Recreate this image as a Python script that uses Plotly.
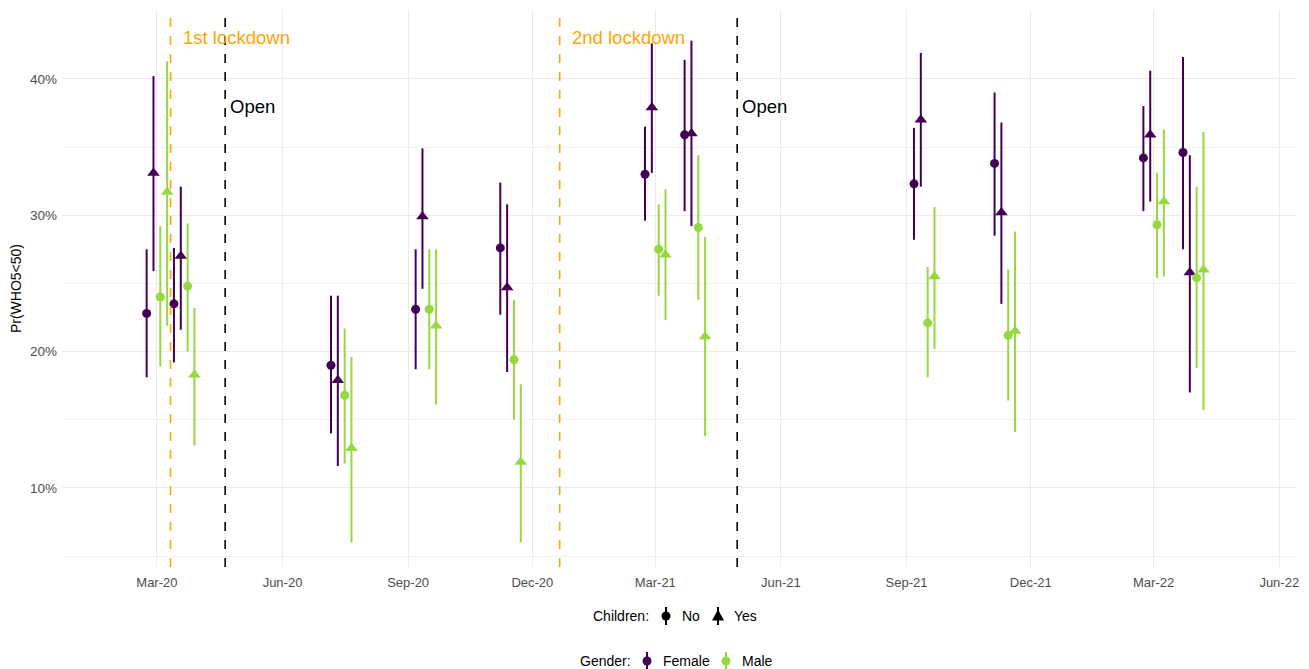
import pandas as pd
import plotly.graph_objects as go

# ---- data (percent) ----
wave_dates = ["2020-03-01", "2020-03-21", "2020-07-14", "2020-09-14", "2020-11-15",
              "2021-03-01", "2021-03-30", "2021-09-14", "2021-11-12", "2022-03-01", "2022-03-30"]

female_no_est = [22.8, 23.5, 19.0, 23.1, 27.6, 33.0, 35.9, 32.3, 33.8, 34.2, 34.6]
female_no_lo = [18.1, 19.2, 14.0, 18.7, 22.7, 29.6, 30.3, 28.2, 28.5, 30.3, 27.5]
female_no_hi = [27.5, 27.6, 24.1, 27.5, 32.4, 36.5, 41.4, 36.4, 39.0, 38.0, 41.6]

female_yes_est = [33.1, 27.0, 17.9, 29.9, 24.7, 37.9, 36.0, 37.0, 30.2, 35.9, 25.8]
female_yes_lo = [25.9, 21.6, 11.6, 24.6, 18.5, 33.1, 29.2, 32.1, 23.5, 31.0, 17.0]
female_yes_hi = [40.2, 32.1, 24.1, 34.9, 30.8, 42.6, 42.8, 41.9, 36.8, 40.6, 34.4]

male_no_est = [24.0, 24.8, 16.8, 23.1, 19.4, 27.5, 29.1, 22.1, 21.2, 29.3, 25.4]
male_no_lo = [18.9, 20.0, 11.8, 18.7, 15.0, 24.1, 23.8, 18.1, 16.4, 25.4, 18.8]
male_no_hi = [29.2, 29.4, 21.7, 27.5, 23.8, 30.8, 34.4, 26.2, 26.0, 33.1, 32.1]

male_yes_est = [31.7, 18.3, 12.9, 21.9, 11.9, 27.1, 21.1, 25.5, 21.5, 31.0, 26.0]
male_yes_lo = [21.9, 13.1, 6.0, 16.1, 6.0, 22.3, 13.8, 20.2, 14.1, 25.5, 15.7]
male_yes_hi = [41.3, 23.2, 19.6, 27.5, 17.6, 31.9, 28.4, 30.6, 28.8, 36.3, 36.1]

tick_dates = ["2020-03-01", "2020-06-01", "2020-09-01", "2020-12-01", "2021-03-01",
              "2021-06-01", "2021-09-01", "2021-12-01", "2022-03-01", "2022-06-01"]
tick_labels = ["Mar-20", "Jun-20", "Sep-20", "Dec-20", "Mar-21",
               "Jun-21", "Sep-21", "Dec-21", "Mar-22", "Jun-22"]
y_ticks = [10, 20, 30, 40]
y_tick_labels = ["10%", "20%", "30%", "40%"]

lockdown_dates = ["2020-03-11", "2020-12-21"]
lockdown_labels = ["1st lockdown", "2nd lockdown"]
open_dates = ["2020-04-20", "2021-04-30"]
open_labels = ["Open", "Open"]

children_title = "Children:"
children_levels = ["No", "Yes"]
gender_title = "Gender:"
gender_levels = ["Female", "Male"]

# ---- styles ----
PURPLE = "#440154"
GREEN = "#95D840"
ORANGE = "#FFA500"
FONT = "Liberation Sans, Arial, sans-serif"
OFF = 8  # page body margin in the browser
W, H = 1309 - OFF, 669 - OFF
ML, MR, MT, MB = 62 - OFF, 12, 10 - OFF, 102

series = [
    ("Female", "No", female_no_est, female_no_lo, female_no_hi, PURPLE, "circle", 9, -7.5),
    ("Female", "Yes", female_yes_est, female_yes_lo, female_yes_hi, PURPLE, "triangle-up", 11, -2.5),
    ("Male", "No", male_no_est, male_no_lo, male_no_hi, GREEN, "circle", 9, 2.5),
    ("Male", "Yes", male_yes_est, male_yes_lo, male_yes_hi, GREEN, "triangle-up", 11, 7.5),
]

fig = go.Figure()
base = pd.to_datetime(wave_dates)
for g, c, est, lo, hi, col, sym, size, off in series:
    xs = base + pd.Timedelta(days=off)
    fig.add_trace(go.Scatter(
        x=xs, y=est, mode="markers",
        marker=dict(color=col, symbol=sym, size=size, line=dict(width=0)),
        error_y=dict(type="data", symmetric=False,
                     array=[h - e for h, e in zip(hi, est)],
                     arrayminus=[e - l for e, l in zip(est, lo)],
                     color=col, thickness=2, width=0),
        showlegend=False, name=f"{g} {c}"))

shapes = []
annotations = []
for d, lab in zip(lockdown_dates, lockdown_labels):
    shapes.append(dict(type="line", xref="x", yref="paper", x0=d, x1=d, y0=0, y1=1,
                       line=dict(color=ORANGE, width=1.6, dash="dash")))
    annotations.append(dict(x=d, y=43.0, xref="x", yref="y", text=lab, showarrow=False,
                            xanchor="left", xshift=10, font=dict(color=ORANGE, size=18.5, family=FONT)))
for d, lab in zip(open_dates, open_labels):
    shapes.append(dict(type="line", xref="x", yref="paper", x0=d, x1=d, y0=0, y1=1,
                       line=dict(color="black", width=1.6, dash="dash")))
    annotations.append(dict(x=d, y=37.95, xref="x", yref="y", text=lab, showarrow=False,
                            xanchor="left", xshift=3, font=dict(color="black", size=18.5, family=FONT)))

# ---- manual legends (pointrange-style keys) ----
PW = W - ML - MR
PH = H - MT - MB


def px2x(px):
    return (px - OFF - ML) / PW


def py2y(py):
    return (H - MB - (py - OFF)) / PH


LEG_FONT = dict(family=FONT, size=14, color="black")


def add_text(px, py, text):
    annotations.append(dict(x=px2x(px), y=py2y(py), xref="paper", yref="paper", text=text,
                            showarrow=False, xanchor="left", yanchor="middle", font=LEG_FONT))


def add_key(px, py, color, symbol):
    xa, ya = px2x(px), py2y(py)
    shapes.append(dict(type="line", xref="paper", yref="paper", xsizemode="pixel", ysizemode="pixel",
                       xanchor=xa, yanchor=ya, x0=0, x1=0, y0=-9, y1=9,
                       line=dict(color=color, width=2)))
    if symbol == "circle":
        shapes.append(dict(type="circle", xref="paper", yref="paper", xsizemode="pixel", ysizemode="pixel",
                           xanchor=xa, yanchor=ya, x0=-4.5, x1=4.5, y0=-4.5, y1=4.5,
                           fillcolor=color, line=dict(width=0)))
    else:
        shapes.append(dict(type="path", xref="paper", yref="paper", xsizemode="pixel", ysizemode="pixel",
                           xanchor=xa, yanchor=ya, path="M-6,-4.5 L6,-4.5 L0,6.5 Z",
                           fillcolor=color, line=dict(width=0)))


row1, row2 = 616, 661
add_text(591, row1, children_title)
add_key(666, row1, "black", "circle")
add_text(680, row1, children_levels[0])
add_key(718, row1, "black", "triangle")
add_text(732, row1, children_levels[1])

add_text(578, row2, gender_title)
add_key(647, row2, PURPLE, "circle")
add_text(661, row2, gender_levels[0])
add_key(726, row2, GREEN, "circle")
add_text(740, row2, gender_levels[1])

fig.update_layout(
    width=W, height=H,
    margin=dict(l=ML, r=MR, t=MT, b=MB),
    plot_bgcolor="white", paper_bgcolor="white",
    font=dict(family=FONT, size=13, color="#4D4D4D"),
    shapes=shapes, annotations=annotations, showlegend=False,
    xaxis=dict(type="date", range=["2019-12-22 12:00", "2022-06-14"],
               tickvals=tick_dates, ticktext=tick_labels, automargin=False,
               showgrid=True, gridcolor="#EBEBEB", gridwidth=1,
               zeroline=False, showline=False, ticks="", ticklabelstandoff=6,
               tickfont=dict(size=13, color="#4D4D4D")),
    yaxis=dict(range=[4.2, 45.05], tickvals=y_ticks, ticktext=y_tick_labels, automargin=False,
               showgrid=True, gridcolor="#EBEBEB", gridwidth=1,
               minor=dict(tickvals=[5, 15, 25, 35, 45], showgrid=True, gridcolor="#F2F2F2", gridwidth=1),
               zeroline=False, showline=False, ticks="", ticklabelstandoff=4,
               title=dict(text="Pr(WHO5<50)", font=dict(size=14, color="black"), standoff=5),
               tickfont=dict(size=13.5, color="#4D4D4D")),
)

fig.write_html("out.html")
